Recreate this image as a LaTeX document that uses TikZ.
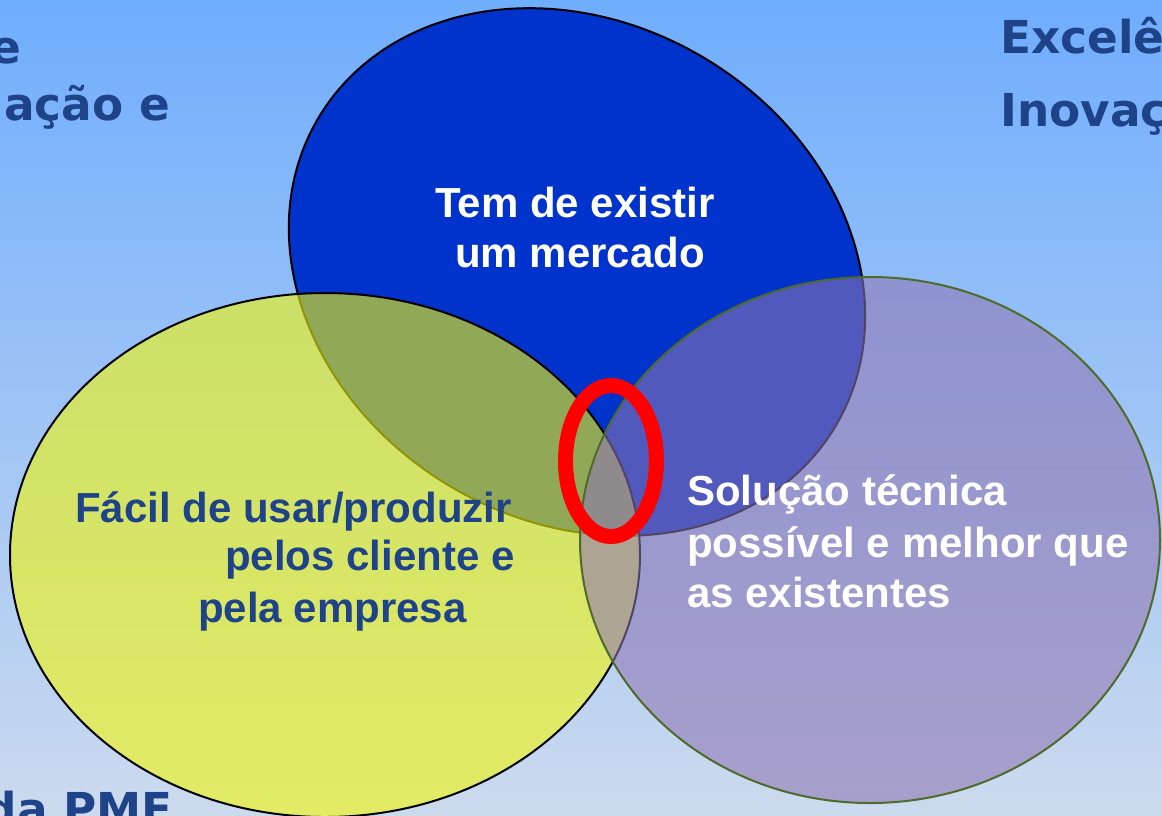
\documentclass[tikz,border=0pt]{standalone}
\usepackage{fontspec}
\setsansfont{Liberation Sans}
\newfontfamily\edgefont{DejaVu Sans}
\definecolor{bgtop}{HTML}{6FADFD}
\definecolor{bgbot}{HTML}{CCDAEE}
\definecolor{mkt}{HTML}{0033CC}
\definecolor{use}{HTML}{F3F70A}
\definecolor{tech}{HTML}{8F76B3}
\definecolor{rim}{HTML}{4E6B2A}
\definecolor{ink}{HTML}{1F4388}

\begin{document}
\begin{tikzpicture}[x=0.75pt,y=-0.75pt,
  wtxt/.style={font=\sffamily\bfseries\fontsize{31.5}{37.5}\selectfont, text=white, inner sep=0pt, anchor=base west},
  btxt/.style={wtxt, text=ink},
  side/.style={font=\edgefont\bfseries\fontsize{34}{40}\selectfont, text=ink, inner sep=0pt, anchor=base west}]

\clip (0,0) rectangle (1162,815);
\fill[top color=bgtop, bottom color=bgbot] (0,0) rectangle (1162,815);

\draw[line width=1.5pt, fill=mkt, rotate around={-31:(577,272)}] (577,272) ellipse [x radius=301, y radius=249];
\draw[line width=1.5pt, fill=use, fill opacity=0.6] (325,555) ellipse [x radius=315, y radius=262];
\draw[line width=1.5pt, draw=rim, fill=tech, fill opacity=0.58] (870,540) ellipse [x radius=290, y radius=263];
\draw[line width=11.25pt, red] (611,461) ellipse [x radius=45.5, y radius=75.5];

\path
(435,217) node[wtxt] (m1) {Tem de existir}
(455,267) node[wtxt] (m2) {um mercado}
(75,522) node[btxt] (u1) {Fácil de usar/produzir}
(515,570) node[btxt, anchor=base east] (u2) {pelos cliente e}
(198,622) node[btxt] (u3) {pela empresa}
(687,505) node[wtxt] (t1) {Solução técnica}
(687,557) node[wtxt] (t2) {possível e melhor que}
(687,607) node[wtxt] (t3) {as existentes};

%\path (0,0) node (x) {};
\path
(22,63) node[side, anchor=base east] (l1) {e}
(170,120) node[side, anchor=base east] (l2) {ação e}
(1000,53) node[side] (r1) {Excelê}
(1000,126) node[side] (r2) {Inovaç}
(173,825) node[side, anchor=base east] (b1) {da PME};
\end{tikzpicture}
\end{document}
